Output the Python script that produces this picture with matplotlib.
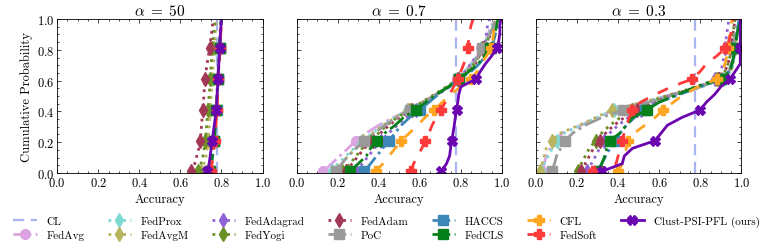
import matplotlib
matplotlib.use("Agg")
import matplotlib.pyplot as plt
from matplotlib.ticker import MultipleLocator

plt.rcParams["font.family"] = "cmr10"
plt.rcParams["mathtext.fontset"] = "cm"
plt.rcParams["axes.formatter.use_mathtext"] = True

titles = [r"$\alpha\;=\;50$", r"$\alpha\;=\;0.7$", r"$\alpha\;=\;0.3$"]

# cumulative probability levels for the stored accuracies
levels = [0.01, 0.06, 0.11, 0.16, 0.21, 0.26, 0.31, 0.36, 0.41, 0.46, 0.51,
          0.56, 0.61, 0.66, 0.71, 0.76, 0.81, 0.86, 0.91, 0.96, 1.0]

cl = [0.78, 0.776, 0.776]

# accuracy values per method, one list per alpha (50, 0.7, 0.3)
fedavg = [
    [0.74, 0.748, 0.754, 0.758, 0.762, 0.765, 0.768, 0.771, 0.773, 0.775, 0.777, 0.779, 0.781, 0.783, 0.785, 0.787, 0.789, 0.791, 0.793, 0.795, 0.797],
    [0.13, 0.17, 0.21, 0.25, 0.29, 0.34, 0.40, 0.47, 0.55, 0.62, 0.69, 0.74, 0.78, 0.82, 0.85, 0.88, 0.90, 0.92, 0.935, 0.95, 0.96],
    [0.03, 0.04, 0.05, 0.07, 0.09, 0.13, 0.22, 0.30, 0.38, 0.52, 0.66, 0.80, 0.90, 0.95, 0.96, 0.965, 0.97, 0.975, 0.98, 0.985, 0.99],
]
fedprox = [
    [0.745, 0.752, 0.757, 0.761, 0.764, 0.767, 0.77, 0.772, 0.774, 0.776, 0.778, 0.78, 0.782, 0.784, 0.786, 0.788, 0.79, 0.792, 0.794, 0.796, 0.798],
    [0.17, 0.20, 0.24, 0.28, 0.32, 0.37, 0.42, 0.48, 0.54, 0.61, 0.68, 0.74, 0.78, 0.82, 0.855, 0.88, 0.90, 0.92, 0.94, 0.955, 0.965],
    [0.025, 0.04, 0.06, 0.08, 0.10, 0.14, 0.22, 0.30, 0.38, 0.53, 0.67, 0.81, 0.91, 0.95, 0.96, 0.965, 0.97, 0.975, 0.98, 0.985, 0.99],
]
fedavgm = [
    [0.70, 0.715, 0.725, 0.73, 0.735, 0.738, 0.741, 0.743, 0.745, 0.748, 0.75, 0.753, 0.755, 0.758, 0.76, 0.763, 0.765, 0.768, 0.77, 0.773, 0.776],
    [0.20, 0.22, 0.25, 0.29, 0.325, 0.37, 0.42, 0.48, 0.545, 0.61, 0.68, 0.74, 0.785, 0.825, 0.86, 0.885, 0.905, 0.925, 0.945, 0.96, 0.97],
    [0.02, 0.03, 0.04, 0.05, 0.077, 0.12, 0.21, 0.29, 0.37, 0.52, 0.66, 0.80, 0.90, 0.95, 0.96, 0.965, 0.97, 0.975, 0.98, 0.985, 0.99],
]
fedadagrad = [
    [0.735, 0.745, 0.752, 0.757, 0.762, 0.766, 0.769, 0.772, 0.775, 0.777, 0.779, 0.781, 0.783, 0.785, 0.787, 0.789, 0.791, 0.793, 0.795, 0.797, 0.80],
    [0.29, 0.32, 0.35, 0.38, 0.41, 0.45, 0.49, 0.53, 0.58, 0.63, 0.68, 0.74, 0.785, 0.82, 0.85, 0.875, 0.91, 0.92, 0.925, 0.93, 0.94],
    [0.25, 0.27, 0.29, 0.31, 0.33, 0.36, 0.40, 0.45, 0.51, 0.59, 0.69, 0.80, 0.87, 0.90, 0.91, 0.915, 0.92, 0.925, 0.93, 0.935, 0.94],
]
fedyogi = [
    [0.688, 0.70, 0.71, 0.716, 0.722, 0.725, 0.728, 0.731, 0.733, 0.737, 0.74, 0.743, 0.746, 0.748, 0.75, 0.752, 0.755, 0.758, 0.762, 0.766, 0.77],
    [0.22, 0.26, 0.29, 0.32, 0.36, 0.40, 0.44, 0.49, 0.55, 0.61, 0.67, 0.73, 0.785, 0.83, 0.865, 0.89, 0.91, 0.93, 0.945, 0.96, 0.97],
    [0.205, 0.22, 0.24, 0.26, 0.29, 0.32, 0.36, 0.41, 0.47, 0.55, 0.66, 0.78, 0.88, 0.92, 0.935, 0.945, 0.95, 0.955, 0.96, 0.965, 0.97],
]
fedadam = [
    [0.652, 0.67, 0.68, 0.69, 0.697, 0.70, 0.703, 0.706, 0.709, 0.712, 0.715, 0.717, 0.72, 0.725, 0.73, 0.736, 0.742, 0.747, 0.752, 0.756, 0.76],
    [0.24, 0.27, 0.30, 0.33, 0.37, 0.41, 0.45, 0.50, 0.56, 0.62, 0.68, 0.74, 0.785, 0.83, 0.87, 0.89, 0.91, 0.93, 0.95, 0.965, 0.975],
    [0.22, 0.24, 0.26, 0.28, 0.31, 0.34, 0.38, 0.43, 0.49, 0.57, 0.67, 0.79, 0.89, 0.92, 0.935, 0.945, 0.95, 0.955, 0.96, 0.965, 0.975],
]
poc = [
    [0.74, 0.75, 0.755, 0.76, 0.764, 0.767, 0.77, 0.773, 0.775, 0.777, 0.779, 0.781, 0.783, 0.785, 0.787, 0.789, 0.791, 0.793, 0.795, 0.797, 0.80],
    [0.19, 0.22, 0.25, 0.29, 0.33, 0.38, 0.43, 0.49, 0.55, 0.62, 0.68, 0.74, 0.785, 0.83, 0.86, 0.885, 0.905, 0.925, 0.945, 0.96, 0.97],
    [0.077, 0.09, 0.10, 0.12, 0.141, 0.18, 0.24, 0.32, 0.426, 0.55, 0.68, 0.80, 0.90, 0.94, 0.95, 0.955, 0.96, 0.965, 0.97, 0.975, 0.98],
]
haccs = [
    [0.745, 0.752, 0.757, 0.761, 0.765, 0.768, 0.771, 0.774, 0.776, 0.778, 0.78, 0.782, 0.784, 0.786, 0.788, 0.79, 0.792, 0.794, 0.796, 0.798, 0.80],
    [0.33, 0.36, 0.39, 0.42, 0.45, 0.48, 0.51, 0.55, 0.60, 0.645, 0.69, 0.745, 0.79, 0.85, 0.89, 0.92, 0.945, 0.96, 0.97, 0.98, 0.985],
    [0.30, 0.32, 0.34, 0.36, 0.38, 0.41, 0.44, 0.48, 0.53, 0.60, 0.70, 0.80, 0.90, 0.94, 0.955, 0.965, 0.97, 0.975, 0.98, 0.985, 0.99],
]
fedcls = [
    [0.742, 0.75, 0.756, 0.76, 0.764, 0.767, 0.77, 0.773, 0.775, 0.777, 0.779, 0.781, 0.783, 0.785, 0.787, 0.789, 0.791, 0.793, 0.795, 0.797, 0.80],
    [0.26, 0.30, 0.34, 0.36, 0.39, 0.43, 0.48, 0.52, 0.58, 0.63, 0.68, 0.74, 0.79, 0.84, 0.885, 0.915, 0.94, 0.955, 0.965, 0.975, 0.98],
    [0.30, 0.32, 0.335, 0.345, 0.36, 0.41, 0.44, 0.47, 0.54, 0.60, 0.69, 0.78, 0.90, 0.945, 0.955, 0.963, 0.97, 0.975, 0.98, 0.99, 0.995],
]
cfl = [
    [0.745, 0.752, 0.757, 0.762, 0.766, 0.769, 0.772, 0.774, 0.776, 0.778, 0.78, 0.782, 0.784, 0.786, 0.788, 0.79, 0.792, 0.794, 0.796, 0.798, 0.80],
    [0.385, 0.42, 0.45, 0.48, 0.51, 0.55, 0.59, 0.625, 0.67, 0.71, 0.75, 0.80, 0.85, 0.88, 0.90, 0.925, 0.945, 0.955, 0.96, 0.965, 0.97],
    [0.40, 0.42, 0.43, 0.44, 0.45, 0.48, 0.53, 0.58, 0.62, 0.67, 0.72, 0.79, 0.88, 0.91, 0.92, 0.93, 0.935, 0.94, 0.945, 0.95, 0.955],
]
fedsoft = [
    [0.747, 0.754, 0.759, 0.763, 0.767, 0.77, 0.773, 0.775, 0.777, 0.779, 0.781, 0.783, 0.785, 0.787, 0.789, 0.791, 0.793, 0.795, 0.797, 0.799, 0.80],
    [0.556, 0.57, 0.59, 0.61, 0.626, 0.645, 0.66, 0.68, 0.702, 0.725, 0.745, 0.765, 0.784, 0.80, 0.815, 0.825, 0.833, 0.838, 0.842, 0.85, 0.86],
    [0.28, 0.39, 0.40, 0.41, 0.418, 0.43, 0.44, 0.455, 0.467, 0.51, 0.58, 0.66, 0.76, 0.80, 0.83, 0.88, 0.922, 0.94, 0.95, 0.955, 0.96],
]
clust = [
    [0.73, 0.74, 0.745, 0.75, 0.755, 0.76, 0.765, 0.77, 0.775, 0.777, 0.779, 0.781, 0.783, 0.785, 0.787, 0.789, 0.791, 0.793, 0.795, 0.798, 0.80],
    [0.705, 0.73, 0.745, 0.75, 0.756, 0.762, 0.768, 0.773, 0.779, 0.785, 0.79, 0.80, 0.873, 0.895, 0.92, 0.95, 0.975, 0.985, 0.99, 0.99, 0.995],
    [0.32, 0.42, 0.43, 0.47, 0.58, 0.61, 0.64, 0.71, 0.80, 0.83, 0.87, 0.90, 0.945, 0.97, 0.995, 0.995, 0.995, 0.995, 0.995, 0.995, 0.995],
]

methods = [
    ("FedAvg", fedavg, "#dca3e3", "o", "-."),
    ("FedProx", fedprox, "#7fd9d3", "d", ":"),
    ("FedAvgM", fedavgm, "#b9b55f", "d", ":"),
    ("FedAdagrad", fedadagrad, "#8f63d6", "d", ":"),
    ("FedYogi", fedyogi, "#6a8f25", "d", ":"),
    ("FedAdam", fedadam, "#a23855", "d", ":"),
    ("PoC", poc, "#9a9a9a", "s", "-."),
    ("HACCS", haccs, "#3d86b8", "s", "-."),
    ("FedCLS", fedcls, "#05801a", "s", "-."),
    ("CFL", cfl, "#ffa520", "P", (0, (4, 4))),
    ("FedSoft", fedsoft, "#ff3a3a", "P", (0, (4, 4))),
    ("Clust-PSI-PFL (ours)", clust, "#6a05b0", "X", "-"),
]

fig, axes = plt.subplots(1, 3, figsize=(7.73, 2.51), dpi=100, sharey=True)
fig.subplots_adjust(left=0.074, right=0.959, bottom=0.307, top=0.92, wspace=0.166)

for k, ax in enumerate(axes):
    ax.axvline(cl[k], color="#aab4ee", ls="--", lw=1.6, dashes=(5, 3), label="CL")
    for name, data, color, marker, ls in methods:
        ax.plot(data[k], levels, color=color, ls=ls, lw=2, marker=marker, ms=7,
                markevery=[0, 4, 8, 12, 16], label=name)
    ax.set_xlim(0, 1)
    ax.set_ylim(0, 1)
    ax.set_title(titles[k], fontsize=11, pad=3)
    ax.set_xlabel("Accuracy", fontsize=9, labelpad=3)
    ax.xaxis.set_major_locator(MultipleLocator(0.2))
    ax.yaxis.set_major_locator(MultipleLocator(0.2))
    ax.xaxis.set_minor_locator(MultipleLocator(0.05))
    ax.yaxis.set_minor_locator(MultipleLocator(0.05))
    ax.tick_params(which="both", direction="in", top=True, right=True, labelsize=9, width=0.5)
    ax.tick_params(which="major", length=3, pad=2)
    ax.tick_params(which="minor", length=1.5)
    for sp in ax.spines.values():
        sp.set_linewidth(0.6)

axes[0].set_ylabel("Cumulative Probability", fontsize=9, labelpad=3)

handles, labels = axes[0].get_legend_handles_labels()
fig.legend(handles, labels, loc="upper center", bbox_to_anchor=(0.5, 0.175), ncol=7,
           frameon=False, fontsize=8, handlelength=2.1, columnspacing=2.1,
           labelspacing=0.35, handletextpad=0.85)

fig.savefig("out.png", dpi=100)
